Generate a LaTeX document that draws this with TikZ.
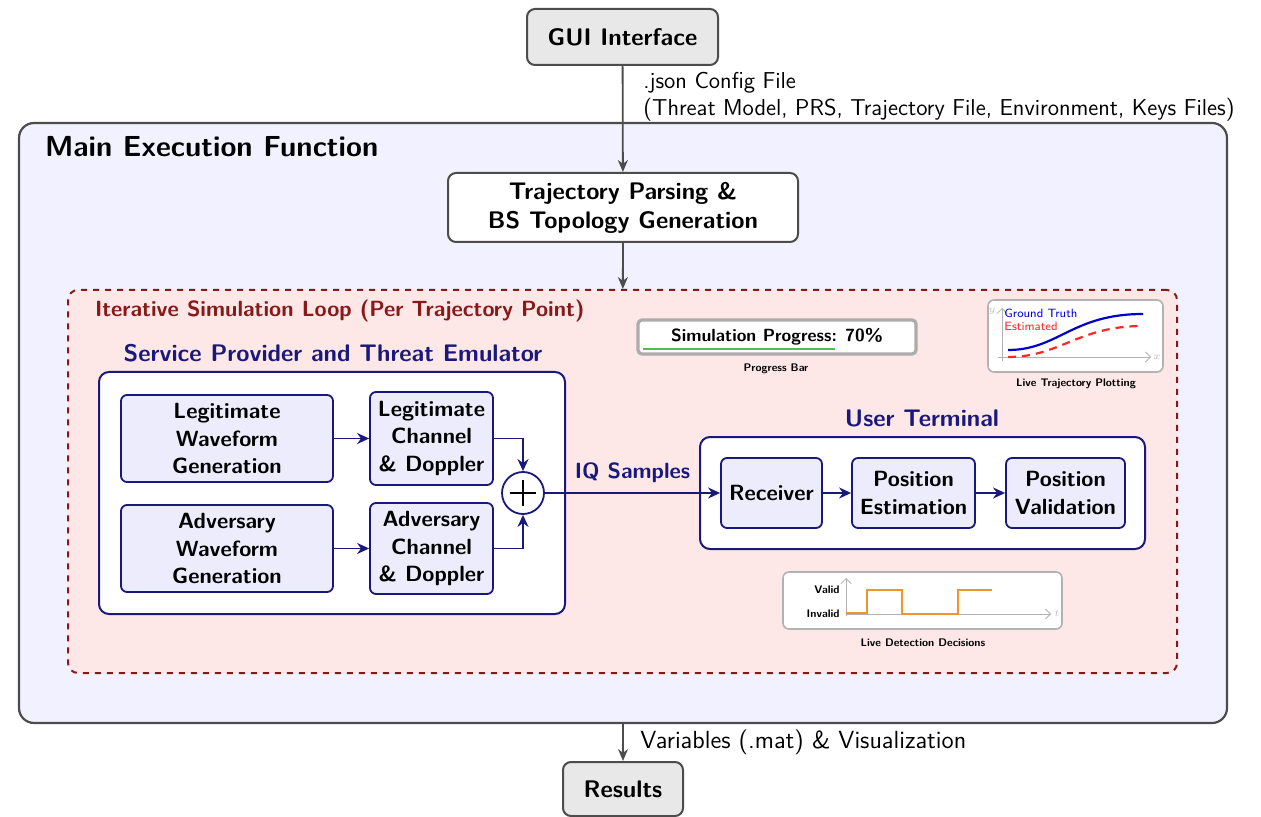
\documentclass[tikz,border=0pt]{standalone}
\usepackage{tikz}
\usetikzlibrary{arrows.meta,positioning,shapes}

\definecolor{navy}{RGB}{25,25,125}
\definecolor{darkred}{RGB}{135,25,25}
\definecolor{lavender}{RGB}{241,241,255}
\definecolor{pinkbg}{RGB}{253,231,231}
\definecolor{blockfill}{RGB}{236,236,252}
\definecolor{plotorange}{RGB}{240,150,40}

\begin{document}
\begin{tikzpicture}
  [x=0.5pt,y=-0.5pt,
 io/.style={
  rectangle,
 rounded corners=4pt,
 line width=1pt, % border
 draw=black!70,
 fill=gray!18,
 align=center,
 inner sep=0pt,
 font=\sffamily\bfseries\fontsize{12}{14.5}\selectfont},
 stage/.style={io, fill=white},
 group/.style={
  rectangle,
 rounded corners=5pt,
 line width=1pt,
 draw=navy,
 fill=white,
 inner sep=0pt},
 block/.style={
  rectangle,
 rounded corners=3pt,
 line width=0.9pt,
 draw=navy,
 fill=blockfill,
 align=center,
 inner sep=0pt,
 font=\sffamily\bfseries\fontsize{11}{13.7}\selectfont},
 widget/.style={
  rectangle,
 rounded corners=3pt,
 line width=0.8pt,
 draw=gray!60,
 fill=white,
 inner sep=0pt},
 caption/.style={font=\sffamily\bfseries\fontsize{5.5}{6}\selectfont},
 heading/.style={text=navy, font=\sffamily\bfseries\fontsize{12}{14}\selectfont},
 note/.style={font=\sffamily\fontsize{11.5}{13.5}\selectfont, align=left, inner sep=0pt},
 axis/.style={gray!60, line width=0.4pt, -{Straight Barb[length=2.5pt]}},
 tinylabel/.style={text=gray!50, font=\fontsize{4}{4}\selectfont, inner sep=0pt},
 flow/.style={-{Stealth[length=6pt,width=5pt]}, line width=0.9pt, draw=black!70},
 link/.style={-{Stealth[length=6pt,width=5.5pt]}, line width=0.9pt, draw=navy}]
\useasboundingbox (0,0) rectangle (1261,817);

% outer frames
\node (main) [rectangle, rounded corners=7.5pt, line width=1.1pt, draw=black!70, fill=lavender,
  minimum width=604pt, minimum height=300pt] at (623,423) {};
\node [anchor=west, font=\sffamily\bfseries\fontsize{14.5}{16}\selectfont] at (38,147) {Main Execution Function};
\node (loop) [rectangle, rounded corners=5pt, line width=1pt, draw=darkred, dashed, fill=pinkbg,
  minimum width=554.5pt, minimum height=191.5pt] at (622.5,481.5) {};
\node [anchor=west, text=darkred, font=\sffamily\bfseries\fontsize{11}{13}\selectfont] at (88,311)
  {Iterative Simulation Loop (Per Trajectory Point)};

% top and bottom
\node (gui) [io, minimum width=95.5pt, minimum height=28pt] at (622.5,37) {GUI Interface};
\node (traj) [stage, minimum width=175pt, minimum height=34.5pt] at (623,207.5)
  {Trajectory Parsing \&\\BS Topology Generation};
\node (results) [io, minimum width=60pt, minimum height=27pt] at (623,789) {Results};
\node [note, anchor=west] at (643,97) {.json Config File\\(Threat Model, PRS, Trajectory File, Environment, Keys Files)};
\node [note, anchor=west, font=\sffamily\fontsize{12.4}{14}\selectfont] at (640,742) {Variables (.mat) \& Visualization};

% service provider and threat emulator
\node (sp) [group, minimum width=233pt, minimum height=121pt] at (332,493) {};
\node [heading] at (333,353) {Service Provider and Threat Emulator};
\node (legwave) [block, minimum width=106pt, minimum height=43.5pt] at (227,438.5) {Legitimate\\Waveform\\Generation};
\node (legchan) [block, minimum width=61.5pt, minimum height=46.5pt] at (431.5,438.5) {Legitimate\\Channel\\\& Doppler};
\node (advwave) [block, minimum width=106pt, minimum height=43.5pt] at (227,548.5) {Adversary\\Waveform\\Generation};
\node (advchan) [block, minimum width=61.5pt, minimum height=45.5pt] at (431.5,548.5) {Adversary\\Channel\\\& Doppler};
\node (sum) [circle, draw=navy, line width=0.9pt, fill=white, minimum size=21pt, inner sep=0pt] at (523,493) {};
\draw [line width=1.1pt] ([xshift=-6.5pt]sum.center) -- ([xshift=6.5pt]sum.center);
\draw [line width=1.1pt] ([yshift=-6.5pt]sum.center) -- ([yshift=6.5pt]sum.center);

% user terminal
\node (ut) [group, minimum width=222.5pt, minimum height=56pt] at (922.5,493) {};
\node [heading] at (922,418) {User Terminal};
\node (receiver) [block, minimum width=50.5pt, minimum height=35pt] at (771.5,493) {Receiver};
\node (posest) [block, minimum width=61.5pt, minimum height=35pt] at (913.5,493) {Position\\Estimation};
\node (posval) [block, minimum width=59.5pt, minimum height=35pt] at (1065.5,493) {Position\\Validation};

% progress bar
\node (progress) [rectangle, rounded corners=2pt, line width=1.6pt, draw=gray!65, fill=white,
  minimum width=139pt, minimum height=17pt, font=\sffamily\bfseries\fontsize{8.8}{10}\selectfont] at (777,337)
  {Simulation Progress: 70\%};
\draw [green!65!black!70, line width=1.3pt] (643,349) -- (835,349);
\node [caption] at (776,369) {Progress Bar};

% live trajectory plot
\node (trajplot) [widget, minimum width=87.5pt, minimum height=36pt] at (1075.5,336) {};
\draw [axis] (1002,361) -- (1002,308);
\draw [axis] (998,357) -- (1151,357);
\node [tinylabel] at (992,311) {$y$};
\node [tinylabel] at (1157,357) {$x$};
\draw [blue!80!black, line width=1.1pt] (1008,350) .. controls (1058,350) and (1072,314) .. (1143,314);
\draw [red!85, line width=1.1pt, dash pattern=on 4pt off 3pt] (1008,357) .. controls (1060,357) and (1078,326) .. (1143,326);
\node [anchor=west, text=blue!85!black, font=\sffamily\fontsize{6}{6}\selectfont, inner sep=0pt] at (1004,313) {Ground Truth};
\node [anchor=west, text=red!85, font=\sffamily\fontsize{6}{6}\selectfont, inner sep=0pt] at (1004,326) {Estimated};
\node [caption] at (1076,384) {Live Trajectory Plotting};

% live detection decisions
\node (detect) [widget, minimum width=139.5pt, minimum height=28.5pt] at (922.5,600.5) {};
\draw [axis] (846,616) -- (846,578);
\draw [axis] (846,614) -- (1051,614);
\node [tinylabel] at (1057,613) {$t$};
\node [anchor=east, font=\sffamily\bfseries\fontsize{5.5}{6}\selectfont, inner sep=0pt] at (840,590) {Valid};
\node [anchor=east, font=\sffamily\bfseries\fontsize{5.5}{6}\selectfont, inner sep=0pt] at (840,614) {Invalid};
\draw [plotorange, line width=0.9pt] (846,613) -- (867,613) -- (867,590) -- (902,590) -- (902,614)
  -- (958,614) -- (958,590) -- (992,590);
\node [caption] at (923,643) {Live Detection Decisions};

% connectors
\path (gui) edge[flow] (traj);
\path (traj) edge[flow] (loop);
\path (main) edge[flow] (results);
\path (legwave) edge[link] (legchan);
\path (advwave) edge[link] (advchan);
\draw [link] (legchan.east) -| (sum.north);
\draw [link] (advchan.east) -| (sum.south);
\draw [link] (sum) -- node[above, text=navy, font=\sffamily\bfseries\fontsize{11}{13}\selectfont, yshift=1.5pt] {IQ Samples} (receiver);
\path (receiver) edge[link] (posest);
\path (posest) edge[link] (posval);
\end{tikzpicture}
\end{document}
